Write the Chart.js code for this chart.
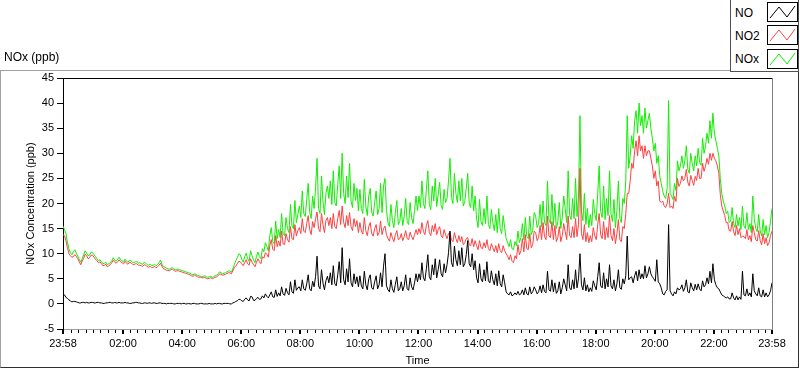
<!DOCTYPE html>
<html><head><meta charset="utf-8">
<script src="https://cdn.jsdelivr.net/npm/chart.js@4.4.0/dist/chart.umd.min.js"></script>
<style>
html,body{margin:0;padding:0;background:#fff;}
#wrap{position:relative;width:800px;height:369px;overflow:hidden;font-family:'Liberation Sans',Arial,sans-serif;color:#000;}
#c{position:absolute;left:0;top:0;}
#panel{position:absolute;left:0;top:70px;width:799px;height:298px;box-sizing:border-box;border-top:1px solid #a0a0a0;border-left:1px solid #a0a0a0;border-right:1px solid #303030;border-bottom:1px solid #303030;pointer-events:none;}
#ptitle{position:absolute;left:4px;top:50px;font-size:12px;line-height:14px;}
#legend{position:absolute;left:730px;top:-1px;width:69px;height:73px;box-sizing:border-box;border:1px solid #505050;background:#fff;}
.lt{position:absolute;left:735px;font-size:12px;line-height:14px;}
.sw{position:absolute;left:767px;}
</style></head>
<body>
<div id="wrap">
<canvas id="c" width="800" height="369"></canvas>
<div id="panel"></div>
<div id="ptitle">NOx (ppb)</div>
<div id="legend"></div>
<div class="lt" style="top:6px">NO</div>
<div class="lt" style="top:29px">NO2</div>
<div class="lt" style="top:52px">NOx</div>
<svg class="sw" style="top:2px" width="31" height="20"><rect x="0.5" y="0.5" width="30" height="19" fill="#fff" stroke="#000"/><polyline points="3,16 12,5 20,15 28,4" fill="none" stroke="#000" stroke-width="1"/></svg>
<svg class="sw" style="top:25px" width="31" height="20"><rect x="0.5" y="0.5" width="30" height="19" fill="#fff" stroke="#000"/><polyline points="3,16 12,5 20,15 28,4" fill="none" stroke="#ff4040" stroke-width="1"/></svg>
<svg class="sw" style="top:49px" width="31" height="20"><rect x="0.5" y="0.5" width="30" height="19" fill="#fff" stroke="#000"/><polyline points="3,16 12,5 20,15 28,4" fill="none" stroke="#11ee00" stroke-width="1"/></svg>
</div>
<script>
// Sampling: one value every 3 minutes starting at 23:58 (one row = one hour)
const STEP_MIN = 3;

const NO = [
1.6,1.8,1.3,1.1,0.8,0.6,0.4,0.5,0.5,0.4,0.3,0.2,0.2,0.3,0.3,0.2,0.3,0.2,0.2,0.3,
0.3,0.2,0.2,0.3,0.3,0.2,0.2,0.1,0.1,0.2,0.2,0.3,0.3,0.2,0.2,0.3,0.2,0.2,0.3,0.2,
0.2,0.2,0.3,0.2,0.2,0.1,0.1,0.2,0.2,0.3,0.3,0.2,0.2,0.1,0.1,0.2,0.2,0.1,0.2,0.2,
0.1,0.2,0.2,0.1,0.1,0.2,0.2,0.1,0.1,0.1,0.0,0.1,0.1,0.1,0.1,0.0,0.0,0.1,0.1,0.1,
0.0,0.1,0.1,0.0,0.0,0.1,0.0,0.0,0.1,0.1,0.0,0.0,0.0,0.1,0.1,0.0,0.0,0.0,0.0,0.1,
0.0,0.0,0.0,0.1,0.0,0.1,0.1,0.0,0.0,0.1,0.1,0.1,0.1,0.0,0.0,0.2,0.3,0.5,0.6,0.9,
0.9,0.6,0.5,0.9,1.2,0.8,0.6,1.5,1.4,0.7,0.7,1.1,1.3,0.9,1.0,1.6,1.2,2.0,1.5,1.2,
1.8,2.4,1.4,1.3,2.8,1.5,2.2,1.6,3.4,2.0,1.7,3.1,2.2,1.8,4.4,2.4,2.1,4.8,2.7,3.2,
3.4,2.6,4.8,3.0,2.7,4.0,5.8,3.0,2.6,4.5,3.4,5.5,9.5,3.6,3.0,6.8,4.2,2.8,4.6,5.5,
4.2,6.2,3.8,7.6,4.0,3.6,5.8,8.4,4.2,11.2,4.8,3.8,7.0,4.4,9.0,4.2,3.4,6.0,4.0,5.4,
3.4,5.6,3.6,3.0,6.5,3.8,2.8,5.0,5.8,3.2,2.9,4.4,5.6,3.0,3.8,6.2,3.4,7.5,10.0,3.6,
2.8,2.4,4.8,3.0,2.3,3.9,5.4,2.6,3.0,4.4,2.6,3.6,5.8,3.0,2.7,5.2,3.4,2.8,4.2,6.0,
4.4,6.0,4.8,8.2,5.2,4.6,7.0,9.8,5.4,4.8,7.8,5.8,9.0,5.2,6.8,8.8,6.0,5.4,8.0,6.2,
7.8,10.2,14.5,8.2,7.4,11.5,8.8,7.6,10.6,7.8,11.2,7.4,8.0,9.8,12.6,8.0,7.4,10.0,6.8,8.6,
5.2,4.2,8.0,5.0,4.4,6.8,4.6,8.4,4.6,4.2,6.6,4.8,3.8,6.0,3.6,6.6,4.0,3.4,5.8,4.2,
2.4,2.0,1.8,2.4,1.6,1.8,2.2,1.8,2.5,1.8,2.0,2.8,1.8,3.2,2.0,1.8,3.4,2.0,2.4,3.4,
2.8,2.0,2.4,3.6,2.2,3.8,2.5,2.2,6.5,2.8,2.5,4.8,2.4,4.2,2.1,2.6,4.4,2.0,3.2,5.0,
3.8,2.6,7.8,3.2,2.8,4.8,3.0,6.8,3.2,5.0,10.0,3.8,2.8,5.2,2.6,3.8,2.4,3.2,2.5,4.6,
3.6,2.8,5.4,8.2,3.6,3.2,6.2,3.0,5.0,3.4,7.8,3.6,3.0,4.8,2.6,4.0,6.8,3.2,2.9,5.0,
4.0,5.6,13.5,4.8,5.2,5.4,4.2,5.6,6.5,4.6,6.8,5.0,6.0,5.0,7.6,5.2,6.0,7.4,6.0,5.4,
5.0,4.5,8.8,4.4,4.0,3.2,2.0,1.8,2.5,2.8,15.8,2.6,2.0,1.6,2.4,2.0,3.2,2.8,3.0,3.8,
2.5,3.2,4.8,2.4,2.2,4.2,3.2,2.6,3.9,2.8,4.0,3.0,2.6,4.6,3.4,3.8,5.2,4.0,6.5,4.2,
8.0,4.8,3.8,3.2,3.0,2.4,1.8,1.6,1.4,1.2,1.4,1.0,1.0,2.2,1.2,0.8,1.6,0.8,1.4,0.9,
6.5,1.8,1.6,3.0,1.6,2.2,1.4,6.0,2.6,2.0,1.6,3.2,1.6,1.4,2.8,1.4,2.2,1.4,1.8,2.6,
4.2
];

const NO2 = [
13.8,13.6,12.6,11.2,10.0,9.6,9.3,9.4,9.8,9.5,9.0,8.4,7.8,8.5,9.1,9.9,9.6,9.0,9.2,9.7,
9.7,9.3,8.9,8.6,8.2,8.4,8.0,7.6,7.7,7.9,7.4,7.6,7.8,8.2,8.7,8.3,8.1,8.4,8.8,8.4,
8.2,8.0,8.5,8.1,7.9,8.3,8.2,7.9,7.8,8.0,8.0,7.7,7.7,7.6,7.5,7.8,7.7,7.4,7.3,7.5,
7.2,7.3,7.5,7.2,7.4,7.7,8.1,7.5,7.0,6.9,6.7,6.7,6.6,6.8,6.9,6.7,6.5,6.6,6.6,6.5,
6.4,6.3,6.2,6.1,6.0,5.9,5.8,5.6,5.5,5.7,5.6,5.4,5.3,5.3,5.2,5.2,5.3,5.1,5.0,5.1,
5.2,5.1,5.1,5.3,5.4,5.6,6.0,5.9,5.7,5.8,5.9,6.1,6.2,6.2,6.0,6.6,7.2,7.5,8.0,8.5,
8.4,8.0,7.6,8.2,8.8,8.0,7.7,9.0,8.3,7.8,7.4,8.3,9.0,8.4,8.0,9.4,9.1,10.2,9.9,9.3,
11.6,12.8,10.9,10.6,13.6,11.4,12.5,11.5,14.5,12.0,11.8,14.0,12.8,12.3,15.4,13.0,12.8,15.8,13.5,14.6,
15.2,14.0,17.0,14.5,14.2,16.0,17.6,14.8,13.8,16.4,15.2,17.0,18.3,15.0,14.4,18.0,15.8,14.2,16.6,17.2,
15.6,17.2,15.0,18.0,15.4,15.0,17.0,18.6,15.8,19.5,16.2,15.2,17.6,15.6,18.2,15.4,14.6,17.0,15.4,16.6,
14.2,16.2,14.5,13.9,17.2,14.6,13.6,15.4,16.2,14.0,13.5,15.0,15.8,13.6,14.2,16.5,13.8,15.0,15.5,13.8,
13.0,12.5,14.2,13.2,12.4,13.8,14.6,12.8,13.0,14.0,12.6,13.4,14.6,13.0,12.8,14.3,13.4,12.8,13.8,14.8,
13.8,15.0,14.0,16.2,14.4,13.8,15.6,16.6,14.2,13.6,15.6,14.4,16.0,13.8,14.8,15.4,13.6,13.2,14.8,13.8,
13.0,14.0,14.2,12.8,12.4,14.2,13.0,12.2,13.6,12.4,13.4,11.8,12.2,13.0,13.2,11.8,11.6,13.0,11.4,12.6,
11.6,10.8,12.6,11.2,11.0,12.2,11.2,12.8,11.0,10.6,12.0,11.2,10.4,11.6,10.2,12.0,10.6,10.2,11.6,10.6,
10.0,9.5,8.8,9.8,8.5,8.2,9.6,9.0,11.8,9.8,10.6,13.0,10.4,13.8,11.0,10.8,14.0,11.2,11.8,14.5,
14.2,12.6,13.2,15.6,12.8,16.2,13.4,12.8,17.5,13.6,13.2,16.4,12.8,15.6,12.4,13.2,15.4,12.4,13.6,16.0,
14.4,12.8,17.5,13.6,13.2,15.4,13.2,17.0,13.4,15.8,27.0,14.0,12.8,15.8,12.4,14.2,12.2,13.6,12.4,15.2,
13.6,12.8,15.8,18.0,13.8,13.0,16.4,12.8,15.2,13.2,17.6,13.6,12.6,15.0,12.0,14.0,16.8,12.8,12.4,15.4,
15.0,18.0,22.0,22.0,24.5,28.0,27.0,30.5,32.5,29.5,33.5,30.5,31.5,29.0,31.5,29.5,30.5,30.5,29.0,27.5,
25.0,26.5,23.5,24.5,20.5,20.2,20.5,19.5,19.2,20.0,22.0,19.2,19.5,19.0,21.4,20.4,25.0,23.4,24.0,25.5,
24.5,25.0,26.8,24.2,23.5,25.6,24.6,23.6,25.4,24.6,27.0,25.0,25.0,28.0,26.4,27.4,29.0,27.8,30.0,28.6,
30.0,29.0,28.5,27.5,26.0,21.8,19.5,18.5,17.6,16.2,16.2,14.6,14.5,16.4,14.4,13.6,15.6,13.8,15.0,13.2,
13.5,13.4,13.0,14.8,12.8,13.6,12.4,15.6,14.2,12.8,12.5,14.6,12.6,11.8,14.0,12.0,13.2,11.6,12.2,13.6,
14.5
];

const NOX = [
15.5,14.8,14.0,12.3,11.0,10.2,9.8,10.4,10.8,10.1,9.5,8.9,8.3,9.0,9.8,10.6,10.1,9.6,9.7,10.3,
10.2,9.8,9.4,9.0,8.6,8.8,8.4,8.0,8.1,8.3,7.8,8.0,8.2,8.6,9.2,8.7,8.5,8.9,9.3,8.8,
8.6,8.4,8.9,8.5,8.3,8.7,8.6,8.3,8.2,8.4,8.5,8.1,8.2,8.0,7.9,8.3,8.1,7.8,7.7,7.9,
7.6,7.7,7.9,7.6,7.8,8.2,8.7,7.9,7.4,7.3,7.1,7.0,6.9,7.1,7.2,7.0,6.8,6.9,6.9,6.8,
6.7,6.6,6.5,6.4,6.3,6.2,6.1,5.9,5.8,6.0,5.9,5.7,5.6,5.5,5.4,5.5,5.6,5.4,5.3,5.4,
5.5,5.3,5.4,5.6,5.7,6.0,6.4,6.2,6.0,6.1,6.2,6.4,6.5,6.6,6.3,7.0,7.8,8.6,9.2,10.0,
9.8,8.9,8.3,9.4,10.1,9.0,8.5,10.6,9.6,8.7,8.2,9.5,10.3,9.4,9.0,11.0,10.4,12.2,11.4,10.6,
13.5,15.2,12.4,12.0,16.5,13.0,14.8,13.2,18.0,14.0,13.6,17.2,15.0,14.2,19.8,15.5,15.0,20.6,16.2,17.8,
19.5,17.2,22.5,18.0,17.4,20.8,24.0,18.2,17.0,21.5,19.0,23.2,29.0,19.0,18.0,25.5,20.5,17.8,22.0,23.5,
21.0,24.5,19.8,26.5,20.2,19.5,23.8,27.5,21.0,30.0,22.0,20.0,25.5,21.2,28.0,20.5,19.2,24.0,20.6,23.0,
18.5,22.8,19.0,18.0,24.8,19.5,17.6,21.5,23.0,18.2,17.5,20.2,22.5,17.8,19.0,24.0,18.2,23.5,25.0,18.6,
16.2,15.4,19.8,16.6,15.2,18.2,20.6,15.8,16.4,19.0,15.6,17.4,21.0,16.4,15.8,20.2,17.2,16.0,18.6,21.5,
18.6,21.5,19.2,24.5,20.0,19.0,22.8,26.5,19.8,18.8,23.5,20.5,25.0,19.4,21.8,24.2,19.6,18.8,22.8,20.2,
21.0,24.5,29.0,21.2,20.0,26.0,22.0,20.2,24.5,20.5,25.0,19.5,20.4,23.0,26.0,20.0,19.2,23.5,18.5,21.5,
17.0,15.2,20.8,16.4,15.6,19.0,16.0,21.5,15.8,15.0,18.8,16.2,14.6,17.8,14.2,19.0,15.0,14.0,17.6,15.2,
13.0,12.2,11.4,12.8,11.0,10.8,12.4,11.6,14.5,12.2,13.2,16.0,12.8,17.2,13.4,13.0,17.5,13.8,14.6,18.2,
17.5,15.2,16.0,19.8,15.4,20.5,16.2,15.6,24.5,16.8,16.0,21.8,15.6,20.0,15.0,16.4,20.2,15.0,17.2,21.5,
19.0,16.2,26.5,17.6,16.8,21.0,17.0,25.0,17.4,21.5,37.5,18.5,16.6,22.0,15.8,19.0,15.2,17.8,15.6,20.8,
18.0,16.6,22.0,27.5,18.4,17.2,23.5,16.8,21.0,17.6,26.5,18.0,16.4,20.8,15.2,18.6,24.5,17.0,16.2,21.0,
20.0,24.5,37.5,27.0,29.5,33.5,31.0,36.5,38.5,34.0,40.0,35.5,37.5,34.0,39.0,35.0,36.5,38.0,35.0,33.0,
30.5,32.0,28.0,29.5,25.5,24.0,22.5,21.5,21.0,23.0,40.5,22.0,21.5,20.8,24.0,22.6,28.5,26.5,27.5,29.5,
27.0,28.5,31.5,26.8,26.0,30.0,28.0,26.5,29.5,27.5,31.0,28.2,27.6,33.0,30.0,31.5,34.0,32.0,36.5,33.0,
38.0,34.0,32.5,31.0,29.5,25.0,22.0,20.5,19.5,18.0,18.5,16.2,16.5,19.2,16.0,15.2,17.8,15.5,17.2,14.8,
19.5,15.5,15.0,18.2,14.8,16.0,14.2,21.5,17.0,15.0,14.4,17.8,14.6,13.5,16.8,13.8,15.6,13.2,14.2,16.5,
19.0
];

// x tick positions in minutes after 23:58, and their labels
const MAJOR_TICKS = [0,122,242,362,482,602,722,842,962,1082,1202,1322,1440];
const TICK_LABELS = ['23:58','02:00','04:00','06:00','08:00','10:00','12:00','14:00','16:00','18:00','20:00','22:00','23:58'];
const Y_MIN = -5, Y_MAX = 45, Y_STEP = 5;
const X_MAX = 1440;

const minutes = NO.map((_, i) => i * STEP_MIN);
const minorTicks = [];
for (let t = 17; t < X_MAX; t += 15) if (!MAJOR_TICKS.includes(t)) minorTicks.push(t);
const allTicks = [...MAJOR_TICKS, ...minorTicks].sort((a, b) => a - b);
const isMajor = v => MAJOR_TICKS.includes(v);

const framePlugin = {
  id: 'frame',
  afterDraw(chart) {
    const {ctx, chartArea: a} = chart;
    ctx.save();
    ctx.lineWidth = 1;
    ctx.strokeStyle = '#000';
    ctx.beginPath();
    ctx.moveTo(a.left, a.top + 0.5);
    ctx.lineTo(a.right + 1, a.top + 0.5);
    ctx.stroke();
    ctx.strokeStyle = '#808080';
    ctx.beginPath();
    ctx.moveTo(a.right + 0.5, a.top);
    ctx.lineTo(a.right + 0.5, a.bottom);
    ctx.stroke();
    ctx.restore();
  }
};

Chart.defaults.font.family = "'Liberation Sans', Arial, sans-serif";
Chart.defaults.font.size = 11;
Chart.defaults.color = '#000';

new Chart(document.getElementById('c'), {
  type: 'line',
  data: {
    labels: minutes,
    datasets: [
      {label: 'NO', data: NO, borderColor: '#000000'},
      {label: 'NO2', data: NO2, borderColor: '#ff4040'},
      {label: 'NOx', data: NOX, borderColor: '#11ee00'}
    ]
  },
  options: {
    responsive: false,
    animation: false,
    devicePixelRatio: 1,
    events: [],
    elements: {
      line: {borderWidth: 1, tension: 0, fill: false},
      point: {radius: 0}
    },
    layout: {padding: {top: 78, right: 28, bottom: 0, left: 0}},
    plugins: {legend: {display: false}, tooltip: {enabled: false}},
    scales: {
      x: {
        type: 'linear', min: 0, max: X_MAX,
        afterBuildTicks(s) { s.ticks = allTicks.map(v => ({value: v})); },
        afterFit(s) { s.height = 40; },
        ticks: {
          autoSkip: false, maxRotation: 0, minRotation: 0, padding: 3, color: '#000',
          callback(v) { const k = MAJOR_TICKS.indexOf(v); return k >= 0 ? TICK_LABELS[k] : ''; }
        },
        grid: {
          drawOnChartArea: false, tickLength: 5, color: '#000',
          lineWidth: c => (c.tick && isMajor(c.tick.value)) ? 2 : 1,
          tickBorderDash: c => (c.tick && isMajor(c.tick.value)) ? [] : [3, 10]
        },
        border: {display: true, color: '#a0a0a0', width: 1},
        title: {display: true, text: 'Time', color: '#000', font: {size: 11}, padding: {top: 0, bottom: 1}}
      },
      y: {
        min: Y_MIN, max: Y_MAX,
        afterFit(s) { s.width = 63; },
        ticks: {stepSize: Y_STEP, color: '#000', padding: 3},
        grid: {drawOnChartArea: false, tickLength: 6, color: '#000'},
        border: {display: true, color: '#000', width: 1},
        title: {display: true, text: 'NOx Concentration (ppb)', color: '#000', font: {size: 11}, padding: {top: 24, bottom: 0}}
      }
    }
  },
  plugins: [framePlugin]
});
</script>
</body></html>
